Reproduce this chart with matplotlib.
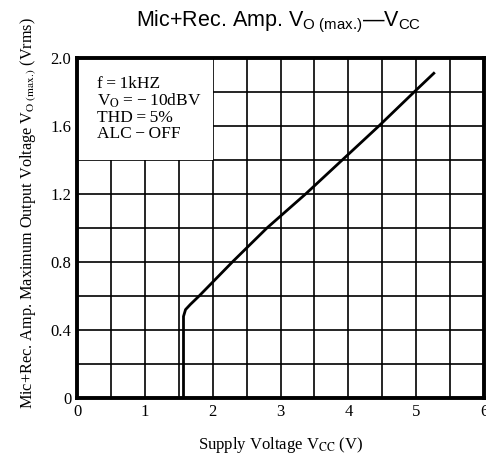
import matplotlib
matplotlib.use("Agg")
import matplotlib.pyplot as plt
from matplotlib.patches import Rectangle
import numpy as np

# Data
vcc = [1.57, 1.57, 1.60, 1.67, 1.80, 2.29, 2.80, 3.37, 3.91, 4.45, 4.97, 5.26]
vo_max = [0.0, 0.48, 0.52, 0.55, 0.60, 0.80, 1.00, 1.20, 1.40, 1.60, 1.80, 1.91]

x_ticks = [0, 1, 2, 3, 4, 5, 6]
x_tick_labels = ["0", "1", "2", "3", "4", "5", "6"]
y_ticks = [0, 0.4, 0.8, 1.2, 1.6, 2.0]
y_tick_labels = ["0", "0.4", "0.8", "1.2", "1.6", "2.0"]
conditions = ["f\u2009=\u20091kHZ", "V$_{\\rm O}$\u2009=\u2009\u2212\u200910dBV",
              "THD\u2009=\u20095%", "ALC\u2009\u2212\u2009OFF"]

plt.rcParams['mathtext.fontset'] = 'custom'
plt.rcParams['mathtext.rm'] = 'Liberation Sans'

SERIF = 'Liberation Serif'

fig = plt.figure(figsize=(4.86, 4.54), dpi=100)
ax = fig.add_axes([77/486, 1-398/454, 407/486, 340/454])

ax.set_xlim(0, 6)
ax.set_ylim(0, 2.0)
ax.set_xticks(x_ticks)
ax.set_xticklabels(x_tick_labels, fontfamily=SERIF, fontsize=12)
ax.set_yticks(y_ticks)
ax.set_yticklabels(y_tick_labels, fontfamily=SERIF, fontsize=12)
ax.set_xticks(np.arange(0, 6.01, 0.5), minor=True)
ax.set_yticks(np.arange(0, 2.01, 0.2), minor=True)
ax.tick_params(which='both', length=0, pad=4)
ax.set_axisbelow(True)
ax.grid(which='both', color='black', linewidth=1.2)

# white box behind condition text hides the grid
ax.add_patch(Rectangle((0, 1.4), 2.0, 0.6, facecolor='white', edgecolor='none', zorder=1))

ax.plot(vcc, vo_max, color='black', linewidth=2.0, zorder=3)

for s in ax.spines.values():
    s.set_linewidth(2.8)
    s.set_zorder(4)

ax.text(0.29, 1.70, "\n".join(conditions), fontfamily=SERIF, fontsize=12.5,
        va='center', ha='left', linespacing=1.0, math_fontfamily='stix', zorder=5)

fig.text(279/486, 1-22/454, r"Mic+Rec. Amp. V$_{\text{O (max.)}}$—V$_{\rm CC}$",
         fontfamily='Liberation Sans', fontsize=15.5, ha='center', va='center')

ax.set_xlabel(r"Supply Voltage V$_{\rm CC}$ (V)", fontfamily=SERIF, fontsize=12,
              math_fontfamily='stix')
ax.xaxis.set_label_coords(0.5, -0.108)
ax.set_ylabel(r"Mic+Rec. Amp. Maximum Output Voltage V$_{\text{O (max.)}}$ (Vrms)",
              fontfamily=SERIF, fontsize=11.7, math_fontfamily='stix')
ax.yaxis.set_label_coords(-0.095, 0.544)

fig.savefig("out.png", dpi=100)
